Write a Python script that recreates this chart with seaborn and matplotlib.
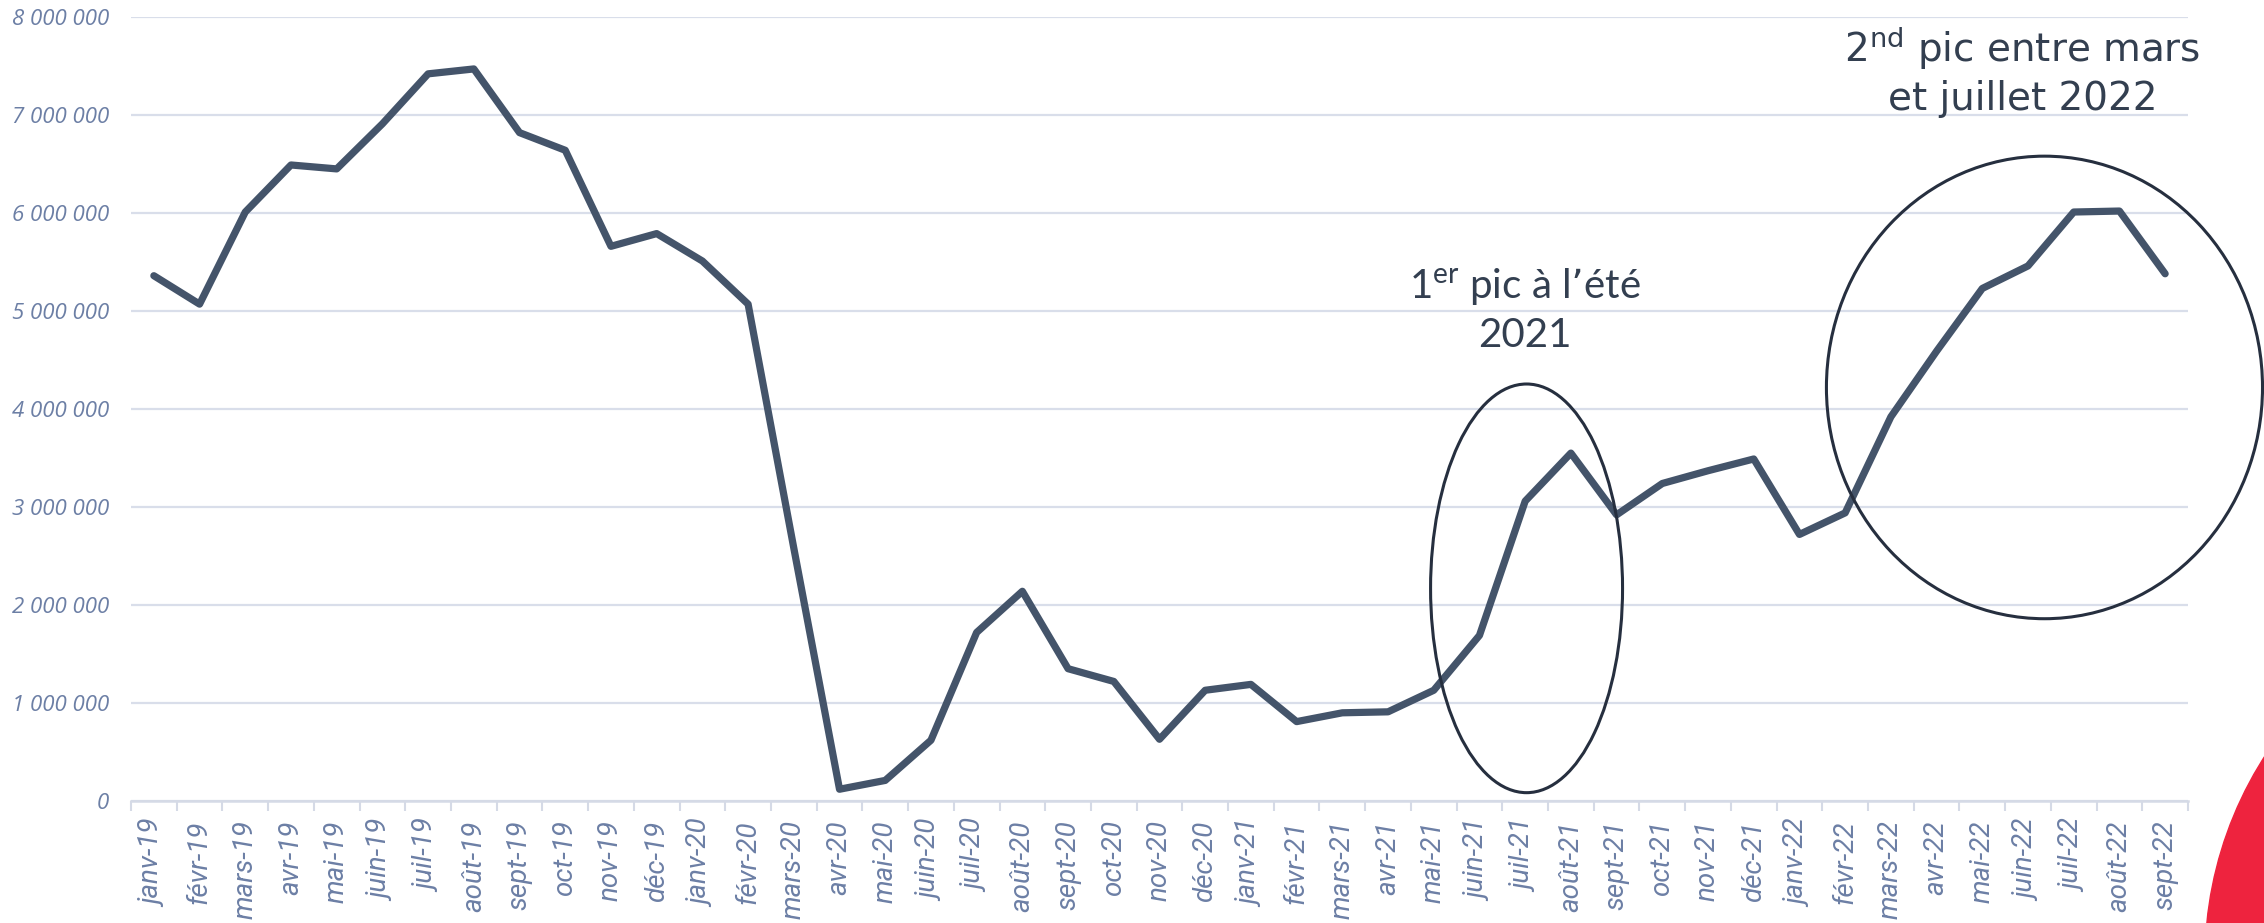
import matplotlib
matplotlib.use("Agg")
import matplotlib.pyplot as plt
from matplotlib.patches import Ellipse
from matplotlib.ticker import FuncFormatter, FixedLocator
import seaborn as sns
import pandas as pd

# mois (janv-19 -> sept-22)
mois = ['janv-19', 'févr-19', 'mars-19', 'avr-19', 'mai-19', 'juin-19', 'juil-19', 'août-19',
        'sept-19', 'oct-19', 'nov-19', 'déc-19',
        'janv-20', 'févr-20', 'mars-20', 'avr-20', 'mai-20', 'juin-20', 'juil-20', 'août-20',
        'sept-20', 'oct-20', 'nov-20', 'déc-20',
        'janv-21', 'févr-21', 'mars-21', 'avr-21', 'mai-21', 'juin-21', 'juil-21', 'août-21',
        'sept-21', 'oct-21', 'nov-21', 'déc-21',
        'janv-22', 'févr-22', 'mars-22', 'avr-22', 'mai-22', 'juin-22', 'juil-22', 'août-22',
        'sept-22']

valeurs = [5360000, 5070000, 6010000, 6490000, 6450000, 6910000, 7420000, 7470000,
           6820000, 6640000, 5660000, 5790000,
           5510000, 5070000, 2580000, 120000, 210000, 620000, 1720000, 2140000,
           1350000, 1220000, 630000, 1130000,
           1190000, 810000, 900000, 910000, 1130000, 1690000, 3060000, 3550000,
           2920000, 3240000, 3370000, 3490000,
           2720000, 2940000, 3920000, 4590000, 5230000, 5460000, 6010000, 6020000,
           5380000]

df = pd.DataFrame({'pos': range(len(mois)), 'mois': mois, 'valeur': valeurs})

sns.set_theme(style='white')

fig = plt.figure(figsize=(22.64, 9.23), dpi=100)
ax = fig.add_axes([131 / 2264, 1 - 801 / 923, (2188 - 131) / 2264, (801 - 17) / 923])

ax.yaxis.grid(True, color='#D9DEEA', lw=1.6)
ax.set_axisbelow(True)

sns.lineplot(data=df, x='pos', y='valeur', ax=ax, color='#44546A', lw=5.2,
             solid_capstyle='round', solid_joinstyle='round', zorder=3)

ax.set_xlim(-0.5, len(mois) - 0.5)
ax.set_ylim(0, 8000000)
ax.set_xlabel('')
ax.set_ylabel('')

for s in ['top', 'right', 'left']:
    ax.spines[s].set_visible(False)
ax.spines['bottom'].set_color('#D5DAE6')
ax.spines['bottom'].set_linewidth(1.8)

# labels des mois
lab_color = '#6C7FA5'
ax.set_xticks(range(len(mois)))
ax.set_xticklabels(mois, rotation=90, fontstyle='italic',
                   family=['Roboto', 'DejaVu Sans'],
                   fontsize=20, color=lab_color, va='top', ha='center')
ax.xaxis.set_minor_locator(FixedLocator([i - 0.5 for i in range(len(mois) + 1)]))
ax.tick_params(axis='x', which='major', length=0, pad=14)
ax.tick_params(axis='x', which='minor', length=7, width=1.5, color='#D5DAE6', bottom=True)

ax.set_yticks(range(0, 8000001, 1000000))
ax.yaxis.set_major_formatter(FuncFormatter(lambda v, p: f"{int(v):,}".replace(',', ' ')))
for t in ax.get_yticklabels():
    t.set_fontstyle('italic')
    t.set_family(['Open Sans', 'DejaVu Sans'])
    t.set_fontsize(16)
    t.set_color(lab_color)
ax.tick_params(axis='y', length=0, pad=16)

# annotations
txt_color = '#333F50'
ax.text(30.0, 5010000, "1$^{\\mathregular{er}}$ pic à l’été\n2021",
        ha='center', va='center', multialignment='center', fontsize=29,
        family=['Lato', 'DejaVu Sans'], color=txt_color, linespacing=1.3)
ax.text(40.88, 7450000, "2$^{\\mathregular{nd}}$ pic entre mars\net juillet 2022",
        ha='center', va='center', multialignment='center', fontsize=28,
        family=['DejaVu Sans'], color=txt_color, linespacing=1.25, clip_on=False)

ax.add_patch(Ellipse((30.03, 2170000), 4.2, 4170000, fill=False,
                     edgecolor='#262F3F', lw=2.2, zorder=4))
ax.add_patch(Ellipse((41.36, 4220000), 9.54, 4720000, fill=False,
                     edgecolor='#262F3F', lw=2.2, zorder=4, clip_on=False))

# disque rouge en bas a droite
fig.patches.append(Ellipse((2582 / 2264, (923 - 960) / 923), 754 / 2264, 754 / 923,
                           transform=fig.transFigure, color='#EE233E', zorder=0))

fig.savefig('out.png', dpi=100)
